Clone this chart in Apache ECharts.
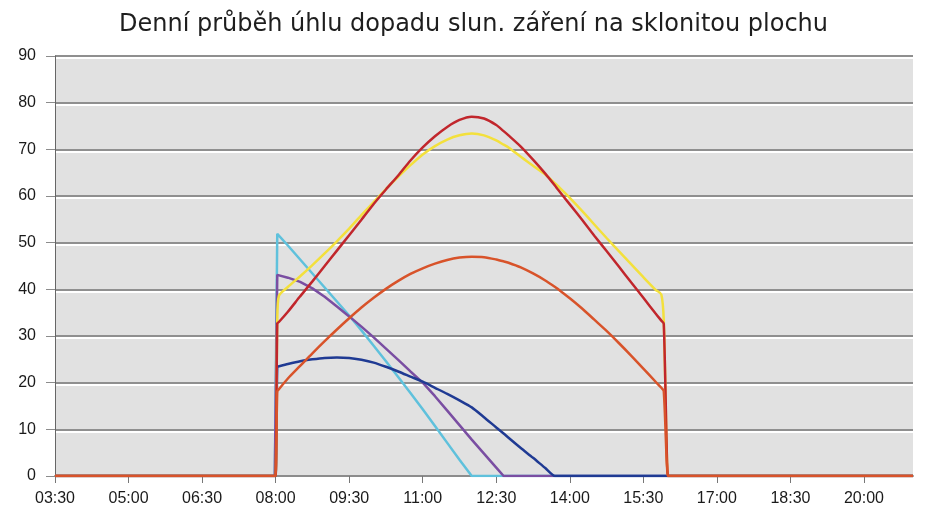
<!DOCTYPE html>
<html><head><meta charset="utf-8">
<script src="https://cdn.jsdelivr.net/npm/echarts@6/dist/echarts.min.js"></script>
<style>html,body{margin:0;padding:0;background:#fff}#c{width:947px;height:516px}</style>
</head><body><div id="c"></div>
<script>
const chartTitle = 'Denní průběh úhlu dopadu slun. záření na sklonitou plochu';
const axisStart = '03:30';
const axisEnd = '21:00';
const xTickLabels = ['03:30','05:00','06:30','08:00','09:30','11:00','12:30','14:00','15:30','17:00','18:30','20:00'];
const times = ['03:30','07:59','08:00','08:02','08:04','08:15','08:30','08:45','09:00','09:15','09:30','09:45','10:00','10:15','10:30','10:45','11:00','11:15','11:30','11:45','12:00','12:15','12:30','12:39','12:45','13:00','13:15','13:30','13:42','13:45','14:00','14:15','14:30','14:45','15:00','15:15','15:30','15:45','15:52','15:55','16:00','16:01','21:00'];
const cyanValues   = [0,0,0,51.9,51.6,49.4,46.4,43.4,40.4,37.4,34.4,31.2,27.9,24.6,21.2,17.8,14.3,10.7,7.1,3.5,0,0,0,0,0,0,0,0,0,0,0,0,0,0,0,0,0,0,0,0,0,0,0];
const purpleValues = [0,0,0,43.1,43.0,42.5,41.6,40.2,38.4,36.3,34.2,32.0,29.7,27.3,24.9,22.4,20.0,17.1,14.0,10.9,7.8,4.8,1.8,0,0,0,0,0,0,0,0,0,0,0,0,0,0,0,0,0,0,0,0];
const blueValues   = [0,0,0,23.4,23.5,24.0,24.6,25.0,25.3,25.4,25.3,24.9,24.3,23.4,22.4,21.3,20.2,18.9,17.6,16.2,14.7,12.6,10.4,9.1,8.2,6.0,3.9,1.7,0,0,0,0,0,0,0,0,0,0,0,0,0,0,0];
const yellowValues = [0,0,0,33.4,38.6,40.5,42.8,45.2,47.7,50.3,53.0,55.9,58.7,61.5,64.1,66.6,68.9,70.7,72.1,73.0,73.4,73.0,71.9,71.0,70.4,68.4,66.5,64.6,62.7,62.2,59.6,56.8,53.9,51.0,48.2,45.4,42.6,39.9,38.9,33.3,0,0,0];
const redValues    = [0,0,0,32.7,33.0,35.2,38.5,41.7,45.0,48.3,51.6,54.9,58.3,61.4,64.4,67.6,70.4,72.8,74.8,76.3,77.0,76.6,75.2,73.9,73.0,70.6,67.8,64.8,62.2,61.5,58.2,54.9,51.5,48.2,44.9,41.5,38.2,34.8,33.3,32.6,0,0,0];
const orangeValues = [0,0,0,18.1,18.6,20.9,23.6,26.3,28.9,31.4,33.8,36.1,38.2,40.1,41.8,43.3,44.5,45.5,46.3,46.8,47.0,46.9,46.4,46.0,45.7,44.7,43.4,41.9,40.5,40.1,38.1,35.9,33.5,31.1,28.5,25.8,23.0,20.2,18.9,18.2,0,0,0];

function toMin(t){ const p = t.split(':').map(Number); return p[0]*60 + p[1]; }
const base = toMin(axisStart);
function fmt(v){ const m = Math.round(v + base); return String(Math.floor(m/60)).padStart(2,'0') + ':' + String(m%60).padStart(2,'0'); }
function pairs(vals){ return times.map((t,i) => [toMin(t) - base, vals[i]]); }
const tickVals = xTickLabels.map(t => toMin(t) - base);

function mk(name, vals, color, smooth){
  return { name, type:'line', data: pairs(vals), showSymbol:false, symbol:'none', smooth: smooth,
    lineStyle:{ width:2.5, color }, itemStyle:{ color }, emphasis:{ disabled:true }, silent:true };
}

const chart = echarts.init(document.getElementById('c'), null, { renderer:'canvas' });
chart.setOption({
  animation:false,
  backgroundColor:'#ffffff',
  title:{ text: chartTitle, left:'center', top:8,
    textStyle:{ fontFamily:'DejaVu Sans', fontSize:24, fontWeight:'normal', color:'#1e1e1e' } },
  grid:{ left:55, right:34, top:56, bottom:40, show:true, backgroundColor:'#e1e1e1', borderWidth:0 },
  xAxis:{ type:'value', min:0, max: toMin(axisEnd) - base, interval:90,
    splitLine:{ show:false },
    axisLine:{ show:true, onZero:false, lineStyle:{ color:'#8c8c8c', width:2 } },
    axisTick:{ show:true, customValues: tickVals, length:7, lineStyle:{ color:'#777', width:1 } },
    axisLabel:{ customValues: tickVals, formatter: fmt, margin:15, fontFamily:'Liberation Sans', fontSize:16, color:'#1a1a1a' } },
  yAxis:{ type:'value', min:0, max:90, interval:10,
    axisLine:{ show:true, lineStyle:{ color:'#666', width:1 } },
    axisTick:{ show:true, length:9, lineStyle:{ color:'#8c8c8c', width:1 } },
    splitLine:{ show:true, lineStyle:{ color:'#8f8f8f', width:2, shadowColor:'#ffffff', shadowOffsetY:2, shadowBlur:0 } },
    axisLabel:{ margin:19, fontFamily:'Liberation Sans', fontSize:16, color:'#1a1a1a' } },
  series:[
    mk('cyan', cyanValues, '#5fc1dc', false),
    mk('purple', purpleValues, '#7a4ea2', false),
    mk('blue', blueValues, '#1f3a93', 0.25),
    mk('yellow', yellowValues, '#f3e03c', 0.25),
    mk('red', redValues, '#c1262c', 0.25),
    mk('orange', orangeValues, '#d8532a', 0.25)
  ]
});
</script>
</body></html>
